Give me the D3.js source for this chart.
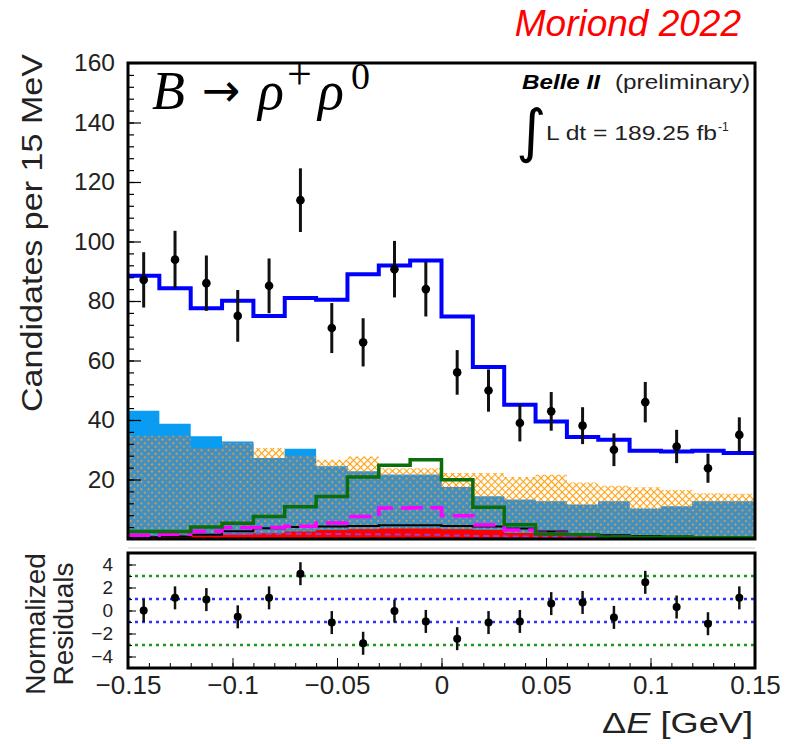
<!DOCTYPE html>
<html>
<head>
<meta charset="utf-8">
<script src="https://cdn.jsdelivr.net/npm/d3@7"></script>
<style>
  body { margin: 0; background: #fff; }
  text { font-family: "Liberation Sans", Arial, sans-serif; }
</style>
</head>
<body>
<script>
// ---- DATA ---- //
// bin centres of Delta E [GeV], 15 MeV bins
const binCenters = [-0.1425, -0.1275, -0.1125, -0.0975, -0.0825, -0.0675, -0.0525, -0.0375, -0.0225, -0.0075,
                    0.0075, 0.0225, 0.0375, 0.0525, 0.0675, 0.0825, 0.0975, 0.1125, 0.1275, 0.1425];
const binWidth = 0.015;

// data points and errors
const dataCounts = [87.1, 93.9, 86.0, 75.0, 85.1, 113.9, 70.9, 66.1, 90.7, 84.0,
                    56.0, 49.9, 39.0, 42.9, 38.1, 30.0, 46.0, 31.1, 23.8, 35.0];
const dataErrors = [9.3, 9.7, 9.3, 8.7, 9.2, 10.7, 8.4, 8.1, 9.5, 9.2,
                    7.5, 7.1, 6.2, 6.5, 6.2, 5.5, 6.8, 5.6, 4.9, 5.9];

// fit components
const fitTotal   = [88.5, 84.3, 77.6, 80.1, 75.0, 81.0, 80.4, 89.0, 91.9, 93.6,
                    74.8, 57.8, 45.1, 39.5, 34.3, 33.4, 29.7, 29.4, 29.7, 28.9];
const continuum  = [43.1, 38.7, 34.5, 32.8, 27.2, 30.3, 24.4, 22.7, 21.6, 21.6,
                    17.5, 14.3, 13.2, 12.6, 11.5, 12.6, 10.2, 10.9, 12.6, 12.6];
const bbBkg      = [34.7, 34.7, 30.6, 32.3, 30.6, 28.0, 26.6, 27.7, 23.8, 23.8,
                    22.2, 22.2, 20.8, 21.6, 19.0, 17.9, 17.4, 16.5, 15.4, 15.2];
const signal     = [2.5, 2.5, 4.0, 5.3, 7.6, 10.8, 14.3, 20.8, 24.8, 26.6,
                    19.9, 10.7, 4.8, 1.7, 1.4, 0.7, 0.6, 0.6, 0.4, 0.4];
const peakingBkg = [1.3, 1.6, 2.6, 3.9, 3.9, 4.3, 5.4, 7.6, 10.4, 10.5,
                    7.8, 4.7, 3.0, 1.9, 0.9, 0.6, 0.4, 0.3, 0.3, 0.3];
const otherBkg   = [0.6, 0.8, 1.4, 2.6, 3.6, 4.0, 4.2, 4.4, 4.6, 4.6,
                    4.4, 4.2, 3.5, 2.5, 1.6, 1.3, 1.0, 0.8, 0.7, 0.6];
const redBkg     = [0.9, 1.0, 1.2, 1.5, 1.9, 2.5, 3.0, 3.3, 3.5, 3.5,
                    3.3, 3.0, 2.0, 1.5, 1.0, 0.8, 0.6, 0.5, 0.5, 0.5];
const purpleBkg  = [1.0, 1.3, 1.5, 1.7, 1.8, 1.8, 1.7, 1.6, 1.5, 1.4,
                    1.2, 1.0, 0.8, 0.7, 0.6, 0.5, 0.5, 0.4, 0.4, 0.4];

// normalized residuals
const residuals = [0.0, 1.1, 0.95, -0.55, 1.1, 3.2, -1.05, -2.85, -0.05, -0.95,
                   -2.45, -1.05, -0.95, 0.6, 0.7, -0.6, 2.45, 0.3, -1.15, 1.1];
const residualErrors = [1, 1, 1, 1, 1, 1, 1, 1, 1, 1, 1, 1, 1, 1, 1, 1, 1, 1, 1, 1];

// ticks
const yMainTicks = [20, 40, 60, 80, 100, 120, 140, 160];
const yResTicks = [-4, -2, 0, 2, 4];
const xTicks = [-0.15, -0.1, -0.05, 0, 0.05, 0.1, 0.15];
const xTickLabels = ["\u22120.15", "\u22120.1", "\u22120.05", "0", "0.05", "0.1", "0.15"];

// ---- THE CHART ---- //
const svg = d3.select("body").append("svg")
  .attr("width", 804)
  .attr("height", 744);

const left = 128, right = 755;
const mainTop = 63, mainBottom = 539;
const resTop = 553, resBottom = 668;

const x = d3.scaleLinear().domain([-0.15, 0.15]).range([left, right]);
const y = d3.scaleLinear().domain([0, 160]).range([mainBottom, mainTop]);
const yRes = d3.scaleLinear().domain([-5, 5]).range([resBottom, resTop]);

// patterns
const defs = svg.append("defs");
const hatch = defs.append("pattern")
  .attr("id", "hatch")
  .attr("patternUnits", "userSpaceOnUse")
  .attr("width", 5).attr("height", 5)
  .attr("patternTransform", "rotate(45)");
hatch.append("line").attr("x1", 0).attr("y1", 0).attr("x2", 5).attr("y2", 0)
  .attr("stroke", "#ffa010").attr("stroke-width", 2.2);
hatch.append("line").attr("x1", 0).attr("y1", 0).attr("x2", 0).attr("y2", 5)
  .attr("stroke", "#ffa010").attr("stroke-width", 2.2);

const mix = defs.append("pattern")
  .attr("id", "mix")
  .attr("patternUnits", "userSpaceOnUse")
  .attr("width", 5).attr("height", 5)
  .attr("patternTransform", "rotate(45)");
mix.append("rect").attr("width", 5).attr("height", 5).attr("fill", "#4290c0");
mix.append("rect").attr("width", 1.7).attr("height", 1.7).attr("fill", "#f0a040");

// step helpers
function stepPoints(values) {
  const pts = values.map((v, i) => [binCenters[i] - binWidth / 2, v]);
  pts.push([binCenters[binCenters.length - 1] + binWidth / 2, values[values.length - 1]]);
  return pts;
}
const stepLine = d3.line()
  .x(d => x(d[0]))
  .y(d => y(d[1]))
  .curve(d3.curveStepAfter);
const stepArea = d3.area()
  .x(d => x(d[0]))
  .y0(y(0))
  .y1(d => y(d[1]))
  .curve(d3.curveStepAfter);

const plot = svg.append("g");

// overlapping background histograms
const overlap = continuum.map((v, i) => Math.min(v, bbBkg[i]));
plot.append("path").attr("d", stepArea(stepPoints(bbBkg))).attr("fill", "url(#hatch)");
plot.append("path").attr("d", stepArea(stepPoints(continuum))).attr("fill", "#0a9cf0");
plot.append("path").attr("d", stepArea(stepPoints(overlap))).attr("fill", "url(#mix)");

// small components
plot.append("path").attr("d", stepArea(stepPoints(redBkg))).attr("fill", "#ff0000");
plot.append("path").attr("d", stepLine(stepPoints(purpleBkg)))
  .attr("fill", "none").attr("stroke", "#9a3fc8").attr("stroke-width", 2)
  .attr("stroke-dasharray", "6,4");
plot.append("path").attr("d", stepLine(stepPoints(otherBkg)))
  .attr("fill", "none").attr("stroke", "#000").attr("stroke-width", 2);
plot.append("path").attr("d", stepLine(stepPoints(peakingBkg)))
  .attr("fill", "none").attr("stroke", "#ff00ff").attr("stroke-width", 3.5)
  .attr("stroke-dasharray", "22,8");
plot.append("path").attr("d", stepLine(stepPoints(signal)))
  .attr("fill", "none").attr("stroke", "#0b6e0b").attr("stroke-width", 3.5);
plot.append("path").attr("d", stepLine(stepPoints(fitTotal)))
  .attr("fill", "none").attr("stroke", "#0000ff").attr("stroke-width", 4);

// data points
const pts = plot.selectAll(".pt")
  .data(dataCounts)
  .enter().append("g").attr("class", "pt");
pts.append("line")
  .attr("x1", (d, i) => x(binCenters[i])).attr("x2", (d, i) => x(binCenters[i]))
  .attr("y1", (d, i) => y(d - dataErrors[i])).attr("y2", (d, i) => y(d + dataErrors[i]))
  .attr("stroke", "#111").attr("stroke-width", 3);
pts.append("circle")
  .attr("cx", (d, i) => x(binCenters[i])).attr("cy", d => y(d))
  .attr("r", 4.3).attr("fill", "#000");

// main frame + axes
const yAxisMinor = d3.axisLeft(y).tickValues(d3.range(4, 160, 4)).tickSize(-6).tickFormat("");
svg.append("g").attr("transform", "translate(" + left + ",0)").call(yAxisMinor)
  .call(g => g.select(".domain").remove())
  .selectAll("line").attr("stroke", "#000").attr("stroke-width", 1.2);
const yAxis = d3.axisLeft(y).tickValues(yMainTicks).tickSize(-13).tickPadding(13);
svg.append("g").attr("transform", "translate(" + left + ",0)").call(yAxis)
  .call(g => g.select(".domain").remove())
  .call(g => g.selectAll("line").attr("stroke", "#000").attr("stroke-width", 1.2))
  .call(g => g.selectAll("text").attr("font-size", 24.5).attr("fill", "#222"));

svg.append("rect")
  .attr("x", left).attr("y", mainTop)
  .attr("width", right - left).attr("height", mainBottom - mainTop)
  .attr("fill", "none").attr("stroke", "#000").attr("stroke-width", 3);

svg.append("line")
  .attr("x1", left).attr("x2", right).attr("y1", 548).attr("y2", 548)
  .attr("stroke", "#cfcfcf").attr("stroke-width", 1);

// ---- RESIDUAL PANEL ---- //
const res = svg.append("g");
[[3, "#1a9a1a"], [-3, "#1a9a1a"], [1, "#3030ff"], [-1, "#3030ff"]].forEach(l => {
  res.append("line")
    .attr("x1", left).attr("x2", right)
    .attr("y1", yRes(l[0])).attr("y2", yRes(l[0]))
    .attr("stroke", l[1]).attr("stroke-width", 2.5)
    .attr("stroke-dasharray", "3,4");
});

const rpts = res.selectAll(".rpt")
  .data(residuals)
  .enter().append("g").attr("class", "rpt");
rpts.append("line")
  .attr("x1", (d, i) => x(binCenters[i])).attr("x2", (d, i) => x(binCenters[i]))
  .attr("y1", (d, i) => yRes(d - residualErrors[i])).attr("y2", (d, i) => yRes(d + residualErrors[i]))
  .attr("stroke", "#111").attr("stroke-width", 2.5);
rpts.append("circle")
  .attr("cx", (d, i) => x(binCenters[i])).attr("cy", d => yRes(d))
  .attr("r", 4).attr("fill", "#000");

const yResMinor = d3.axisLeft(yRes).tickValues(d3.range(-4, 5, 1)).tickSize(-4).tickFormat("");
svg.append("g").attr("transform", "translate(" + left + ",0)").call(yResMinor)
  .call(g => g.select(".domain").remove())
  .selectAll("line").attr("stroke", "#000");
const yResAxis = d3.axisLeft(yRes).tickValues(yResTicks).tickSize(-8).tickPadding(15)
  .tickFormat(d => d3.format("")(d));
svg.append("g").attr("transform", "translate(" + left + ",0)").call(yResAxis)
  .call(g => g.select(".domain").remove())
  .call(g => g.selectAll("line").attr("stroke", "#000"))
  .call(g => g.selectAll("text").attr("font-size", 19).attr("fill", "#222"));

const xMinor = d3.axisBottom(x).tickValues(d3.range(-15, 16).map(i => i / 100)).tickSize(-5).tickFormat("");
svg.append("g").attr("transform", "translate(0," + resBottom + ")").call(xMinor)
  .call(g => g.select(".domain").remove())
  .selectAll("line").attr("stroke", "#000");
const xAxis = d3.axisBottom(x).tickValues(xTicks).tickSize(-10).tickPadding(8)
  .tickFormat((d, i) => xTickLabels[i]);
svg.append("g").attr("transform", "translate(0," + resBottom + ")").call(xAxis)
  .call(g => g.select(".domain").remove())
  .call(g => g.selectAll("line").attr("stroke", "#000"))
  .call(g => g.selectAll("text").attr("font-size", 26).attr("fill", "#222"));

svg.append("rect")
  .attr("x", left).attr("y", resTop)
  .attr("width", right - left).attr("height", resBottom - resTop)
  .attr("fill", "none").attr("stroke", "#000").attr("stroke-width", 3);

// ---- TEXTS ---- //
svg.append("text")
  .attr("x", 741).attr("y", 36)
  .attr("text-anchor", "end")
  .attr("font-size", 37).attr("font-style", "italic").attr("fill", "#ff0000")
  .text("Moriond 2022");

const decay = svg.append("text")
  .attr("y", 109)
  .style("font-family", "'Liberation Serif', 'Times New Roman', serif")
  .attr("font-size", 54).attr("fill", "#000");
decay.append("tspan").attr("x", 152).style("font-style", "italic").text("B");
decay.append("tspan").attr("x", 202).attr("y", 106)
  .style("font-family", "'DejaVu Sans', sans-serif").attr("font-size", 46).text("\u2192");
decay.append("tspan").attr("x", 258).attr("y", 109).style("font-style", "italic").text("\u03c1");
decay.append("tspan").attr("x", 287).attr("y", 89).attr("font-size", 44).text("+");
decay.append("tspan").attr("x", 318).attr("y", 109).style("font-style", "italic").text("\u03c1");
decay.append("tspan").attr("x", 351).attr("y", 89).attr("font-size", 38).text("0");

svg.append("text")
  .attr("x", 522).attr("y", 89)
  .attr("font-size", 20).attr("font-weight", "bold").attr("font-style", "italic")
  .attr("textLength", 78).attr("lengthAdjust", "spacingAndGlyphs")
  .text("Belle II");
svg.append("text")
  .attr("x", 615).attr("y", 89)
  .attr("font-size", 20).attr("fill", "#222")
  .attr("textLength", 135).attr("lengthAdjust", "spacingAndGlyphs")
  .text("(preliminary)");
svg.append("text")
  .attr("x", 516).attr("y", 151)
  .style("font-family", "'DejaVu Sans', sans-serif")
  .attr("font-size", 58).attr("fill", "#000")
  .text("\u222b");
svg.append("text")
  .attr("x", 546).attr("y", 140)
  .attr("font-size", 20).attr("fill", "#222")
  .attr("textLength", 171).attr("lengthAdjust", "spacingAndGlyphs")
  .text("L dt = 189.25 fb");
svg.append("text")
  .attr("x", 718).attr("y", 131)
  .attr("font-size", 12).attr("fill", "#222")
  .text("-1");

svg.append("text")
  .attr("transform", "translate(42,233) rotate(-90)")
  .attr("text-anchor", "middle")
  .attr("font-size", 29).attr("fill", "#222")
  .attr("textLength", 358).attr("lengthAdjust", "spacingAndGlyphs")
  .text("Candidates per 15 MeV");

svg.append("text")
  .attr("transform", "translate(45,624) rotate(-90)")
  .attr("text-anchor", "middle")
  .attr("font-size", 28).attr("fill", "#222")
  .text("Normalized");
svg.append("text")
  .attr("transform", "translate(73,624) rotate(-90)")
  .attr("text-anchor", "middle")
  .attr("font-size", 28).attr("fill", "#222")
  .text("Residuals");

const xTitle = svg.append("text")
  .attr("x", 753).attr("y", 733)
  .attr("text-anchor", "end")
  .attr("font-size", 30).attr("fill", "#222")
  .attr("textLength", 151).attr("lengthAdjust", "spacingAndGlyphs");
xTitle.append("tspan").text("\u0394");
xTitle.append("tspan").attr("font-style", "italic").text("E");
xTitle.append("tspan").text(" [GeV]");
</script>
</body>
</html>
